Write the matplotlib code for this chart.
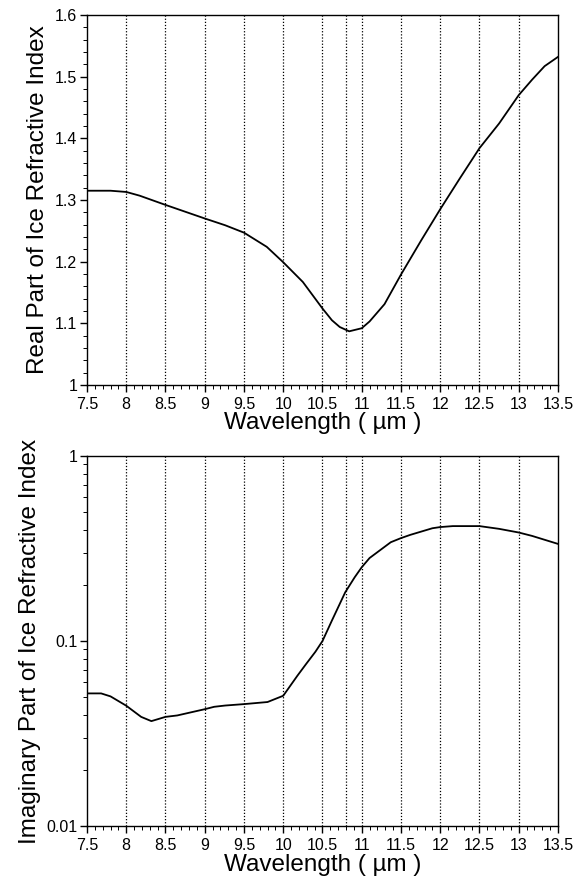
import matplotlib
matplotlib.use("Agg")
import matplotlib.pyplot as plt
from matplotlib.ticker import MultipleLocator, LogLocator, NullFormatter

plt.rcParams['font.family'] = ['Liberation Sans', 'DejaVu Sans']

# Real part of ice refractive index
wl_real = [7.5, 7.8, 8.0, 8.17, 8.5, 9.0, 9.26, 9.5, 9.79, 10.0, 10.25, 10.5, 10.62,
           10.72, 10.84, 11.0, 11.1, 11.29, 11.5, 11.76, 12.0, 12.25, 12.5, 12.75,
           13.0, 13.17, 13.33, 13.5]
n_real = [1.315, 1.315, 1.313, 1.307, 1.292, 1.270, 1.259, 1.247, 1.224, 1.199, 1.167,
          1.124, 1.105, 1.094, 1.087, 1.092, 1.103, 1.131, 1.179, 1.235, 1.285, 1.335,
          1.384, 1.424, 1.470, 1.495, 1.517, 1.532]

# Imaginary part of ice refractive index
wl_imag = [7.5, 7.68, 7.8, 8.0, 8.19, 8.32, 8.5, 8.65, 9.0, 9.12, 9.26, 9.5, 9.8, 10.0,
           10.18, 10.29, 10.41, 10.5, 10.62, 10.79, 10.91, 11.0, 11.1, 11.37, 11.5, 11.62,
           11.9, 12.0, 12.16, 12.5, 12.75, 13.0, 13.17, 13.5]
n_imag = [0.0521, 0.0521, 0.0502, 0.0447, 0.0389, 0.0369, 0.0389, 0.0396, 0.0428, 0.0441,
          0.0448, 0.0456, 0.0468, 0.0506, 0.0649, 0.0750, 0.0875, 0.100, 0.129, 0.1835,
          0.221, 0.2505, 0.281, 0.342, 0.360, 0.375, 0.407, 0.413, 0.418, 0.418, 0.404,
          0.386, 0.370, 0.335]

grid_x = [8, 8.5, 9, 9.5, 10, 10.5, 10.8, 11, 11.5, 12, 12.5, 13]
x_ticks = [7.5, 8, 8.5, 9, 9.5, 10, 10.5, 11, 11.5, 12, 12.5, 13, 13.5]
x_ticklabels = ['7.5', '8', '8.5', '9', '9.5', '10', '10.5', '11', '11.5', '12', '12.5', '13', '13.5']
y_real_ticks = [1.0, 1.1, 1.2, 1.3, 1.4, 1.5, 1.6]
y_real_labels = ['1', '1.1', '1.2', '1.3', '1.4', '1.5', '1.6']
y_imag_ticks = [0.01, 0.1, 1]
y_imag_labels = ['0.01', '0.1', '1']

fig = plt.figure(figsize=(5.8, 8.86), dpi=100)
ax1 = fig.add_axes([0.150, 0.5655, 0.812, 0.4176])
ax2 = fig.add_axes([0.150, 0.0677, 0.812, 0.4176])

TICK_FS = 11.5
LABEL_FS = 17.5

def style(ax):
    for gx in grid_x:
        ax.axvline(gx, color='black', linestyle=(0, (1, 1.5)), linewidth=0.9, zorder=1)
    ax.set_xlim(7.5, 13.5)
    ax.set_xticks(x_ticks)
    ax.set_xticklabels(x_ticklabels, fontsize=TICK_FS)
    ax.xaxis.set_minor_locator(MultipleLocator(0.1))
    ax.tick_params(which='major', direction='out', length=5, width=1, top=False, right=False)
    ax.tick_params(which='minor', direction='out', length=3, width=0.7, top=False, right=False)
    ax.tick_params(axis='x', which='major', pad=3.5)
    ax.tick_params(axis='y', which='major', pad=2)
    for s in ax.spines.values():
        s.set_linewidth(1.0)
    ax.set_xlabel('Wavelength ( µm )', fontsize=LABEL_FS, labelpad=0.5)

ax1.plot(wl_real, n_real, color='black', linewidth=1.3, zorder=3)
style(ax1)
ax1.set_ylim(1.0, 1.6)
ax1.set_yticks(y_real_ticks)
ax1.set_yticklabels(y_real_labels, fontsize=TICK_FS)
ax1.yaxis.set_minor_locator(MultipleLocator(0.02))
ax1.set_ylabel('Real Part of Ice Refractive Index', fontsize=LABEL_FS, labelpad=4)

ax2.plot(wl_imag, n_imag, color='black', linewidth=1.3, zorder=3)
style(ax2)
ax2.set_yscale('log')
ax2.set_ylim(0.01, 1)
ax2.set_yticks(y_imag_ticks)
ax2.set_yticklabels(y_imag_labels, fontsize=TICK_FS)
ax2.yaxis.set_minor_locator(LogLocator(base=10, subs=range(2, 10)))
ax2.yaxis.set_minor_formatter(NullFormatter())
ax2.set_ylabel('Imaginary Part of Ice Refractive Index', fontsize=LABEL_FS, labelpad=4)

fig.savefig('out.png', dpi=100)
